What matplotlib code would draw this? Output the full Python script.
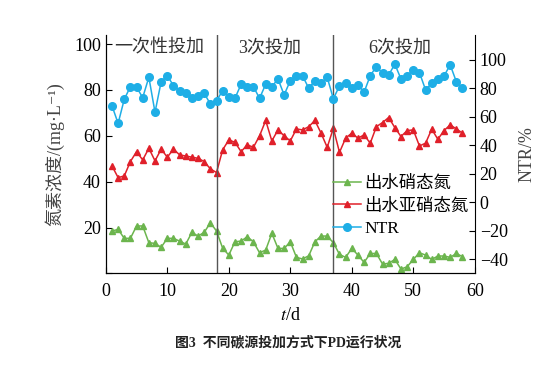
import numpy as np
import matplotlib.pyplot as plt

plt.rcParams['font.family'] = ['Liberation Serif', 'Noto Sans CJK SC', 'DejaVu Serif']
plt.rcParams['mathtext.fontset'] = 'stix'

# 数据 (天数 1-58)
days = np.arange(1, 59)
no3 = [18.5, 19.2, 15.3, 15.3, 20.7, 20.7, 13.4, 13.1, 11.4, 15.3,
       15.3, 14.1, 12.8, 17.9, 16.3, 17.9, 22.1, 18.5, 11.0, 8.0,
       13.8, 14.1, 16.0, 13.8, 9.0, 10.2, 17.5, 10.9, 10.9, 13.8,
       7.0, 6.3, 7.7, 13.8, 16.3, 16.3, 13.4, 8.3, 7.0, 10.9,
       8.0, 4.8, 8.7, 8.7, 4.1, 4.4, 6.1, 1.9, 2.9, 6.1,
       9.0, 8.0, 6.1, 7.6, 7.6, 7.0, 8.7, 7.3]
no2 = [46.9, 41.8, 42.5, 48.8, 53.1, 49.5, 54.6, 49.1, 54.2, 50.7,
       54.2, 51.7, 51.2, 50.7, 50.2, 48.8, 45.6, 44.0, 53.9, 58.2,
       57.2, 53.1, 56.1, 55.0, 60.0, 66.7, 57.8, 62.6, 60.0, 57.8,
       63.0, 62.6, 64.0, 66.7, 61.2, 55.0, 63.3, 52.8, 59.0, 61.2,
       59.0, 60.4, 56.8, 64.0, 65.8, 68.0, 63.6, 59.7, 62.3, 62.6,
       55.6, 56.8, 62.9, 58.5, 62.3, 64.8, 63.0, 61.2]
ntr = [67.8, 55.4, 72.3, 81.2, 80.8, 73.5, 87.8, 63.2, 84.7, 88.9,
       81.9, 78.2, 76.5, 73.5, 74.9, 76.5, 69.0, 71.3, 78.4, 74.2,
       73.0, 82.9, 81.2, 81.2, 73.0, 82.9, 81.2, 86.6, 75.4, 85.4,
       88.7, 88.7, 80.1, 85.4, 83.6, 87.8, 72.7, 81.7, 84.0, 80.5,
       82.4, 77.3, 88.9, 95.3, 90.6, 89.4, 97.0, 86.6, 88.9, 93.0,
       91.1, 78.9, 83.6, 86.4, 88.7, 96.5, 84.7, 80.5]

phase_lines = [18, 37]
phase_names = ['一次性投加', '3次投加', '6次投加']
phase_x = [8.6, 26.7, 47.8]

green = '#6cb54e'
red = '#e0202a'
blue = '#1eaee6'

fig = plt.figure(figsize=(5.54, 3.68), dpi=100)
ax = fig.add_axes([0.191, 0.257, 0.666, 0.648])
ax2 = ax.twinx()

l1, = ax.plot(days, no3, color=green, marker='^', ms=5, lw=1.1, label='出水硝态氮')
l2, = ax.plot(days, no2, color=red, marker='^', ms=5, lw=1.1, label='出水亚硝态氮')
l3, = ax2.plot(days, ntr, color=blue, marker='o', ms=5.5, lw=1.1, label='NTR')

for xv in phase_lines:
    ax.axvline(xv, color='#555555', lw=1.0)
for xt, name in zip(phase_x, phase_names):
    ax.text(xt, 98.5, name, ha='center', va='center', fontsize=13, color='#333333')

ax.set_xlim(0, 60)
ax.set_ylim(0, 104)
ax2.set_ylim(-50, 117.5)
ax.set_xticks(range(0, 61, 10))
ax.set_yticks(range(0, 101, 20))
ax.set_yticklabels(['', '20', '40', '60', '80', '100'])
ax2.set_yticks(range(-40, 101, 20))
ax2.set_yticklabels(['\u221240', '\u221220', '0', '20', '40', '60', '80', '100'])

for a in (ax, ax2):
    a.spines['top'].set_visible(False)
    a.tick_params(direction='in', labelsize=13, length=4, width=0.8)
ax.spines['right'].set_visible(False)
ax.tick_params(axis='x', pad=7)

ax.set_xlabel('$t$/d', fontsize=13, labelpad=5)
ax.set_ylabel('氮素浓度/(mg·L\u207b\u00b9)', fontsize=13, color='#444444', labelpad=7)
ax2.set_ylabel('NTR/%', fontsize=13, color='#444444', labelpad=8)

ax.legend(handles=[l1, l2, l3], loc='lower right', bbox_to_anchor=(1.012, 0.11),
          frameon=False, fontsize=12.5, handlelength=1.6, handletextpad=0.2,
          labelspacing=0.35, borderaxespad=0.2)

fig.text(0.52, 0.07, '图3  不同碳源投加方式下PD运行状况', ha='center', va='center',
         fontsize=10, fontweight='bold', color='#222222')

fig.savefig('out.png', dpi=100)
